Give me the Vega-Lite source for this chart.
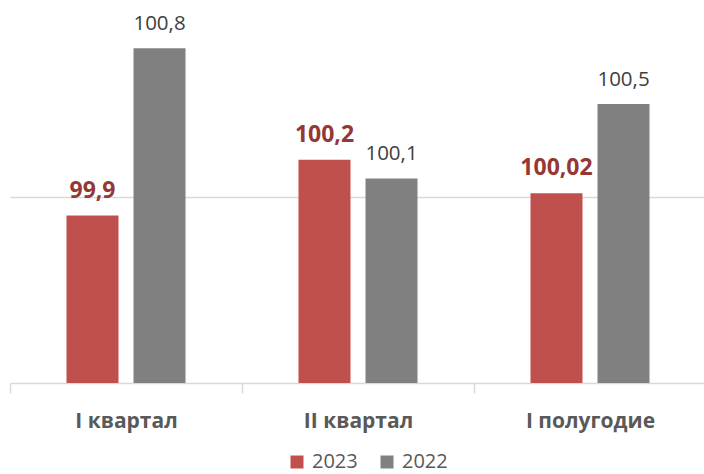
{
  "$schema": "https://vega.github.io/schema/vega-lite/v6.json",
  "width": 696,
  "height": 372,
  "autosize": {"type": "none"},
  "padding": {"left": 10, "top": 11, "right": 0, "bottom": 91},
  "background": "white",
  "config": {
    "view": {"stroke": null},
    "font": "Open Sans"
  },
  "data": {
    "values": [
      {"period": "I квартал", "year": "2023", "value": 99.9, "label": "99,9"},
      {"period": "I квартал", "year": "2022", "value": 100.8, "label": "100,8"},
      {"period": "II квартал", "year": "2023", "value": 100.2, "label": "100,2"},
      {"period": "II квартал", "year": "2022", "value": 100.1, "label": "100,1"},
      {"period": "I полугодие", "year": "2023", "value": 100.02, "label": "100,02"},
      {"period": "I полугодие", "year": "2022", "value": 100.5, "label": "100,5"}
    ]
  },
  "encoding": {
    "x": {
      "field": "period",
      "type": "nominal",
      "sort": ["I квартал", "II квартал", "I полугодие"],
      "scale": {"paddingInner": 0, "paddingOuter": 0},
      "axis": {
        "title": null,
        "labelAngle": 0,
        "labelFont": "Open Sans",
        "labelFontSize": 21,
        "labelFontWeight": "bold",
        "labelColor": "#595959",
        "labelPadding": 17,
        "domainColor": "#d9d9d9",
        "domainWidth": 1.5,
        "tickColor": "#d9d9d9",
        "tickWidth": 1.5,
        "tickSize": 10,
        "tickBand": "extent",
        "grid": false
      }
    },
    "xOffset": {
      "field": "year",
      "type": "nominal",
      "sort": ["2023", "2022"],
      "scale": {"paddingInner": 0.224, "paddingOuter": 0.843}
    },
    "y": {
      "field": "value",
      "type": "quantitative",
      "scale": {"domain": [99, 101], "zero": false, "nice": false},
      "axis": {
        "title": null,
        "labels": false,
        "ticks": false,
        "domain": false,
        "grid": true,
        "values": [100],
        "gridColor": "#d9d9d9",
        "gridWidth": 1.5
      }
    }
  },
  "layer": [
    {
      "mark": {"type": "bar"},
      "encoding": {
        "y2": {"datum": 99},
        "color": {
          "field": "year",
          "type": "nominal",
          "sort": ["2023", "2022"],
          "scale": {"domain": ["2023", "2022"], "range": ["#C0504D", "#808080"]},
          "legend": {
            "title": null,
            "orient": "none",
            "direction": "horizontal",
            "legendX": 277,
            "legendY": 441,
            "symbolType": "square",
            "symbolSize": 169,
            "symbolStrokeWidth": 0,
            "labelFont": "Open Sans",
            "labelFontSize": 20,
            "labelColor": "#595959",
            "labelOffset": 5,
            "columnPadding": 19
          }
        }
      }
    },
    {
      "transform": [{"filter": "datum.year === '2023'"}],
      "mark": {
        "type": "text",
        "baseline": "alphabetic",
        "dy": -18,
        "font": "Open Sans",
        "fontSize": 23,
        "fontWeight": "bold",
        "color": "#953735"
      },
      "encoding": {"text": {"field": "label"}}
    },
    {
      "transform": [{"filter": "datum.year === '2022'"}],
      "mark": {
        "type": "text",
        "baseline": "alphabetic",
        "dy": -18,
        "font": "Open Sans",
        "fontSize": 20.5,
        "color": "#404040"
      },
      "encoding": {"text": {"field": "label"}}
    }
  ]
}
